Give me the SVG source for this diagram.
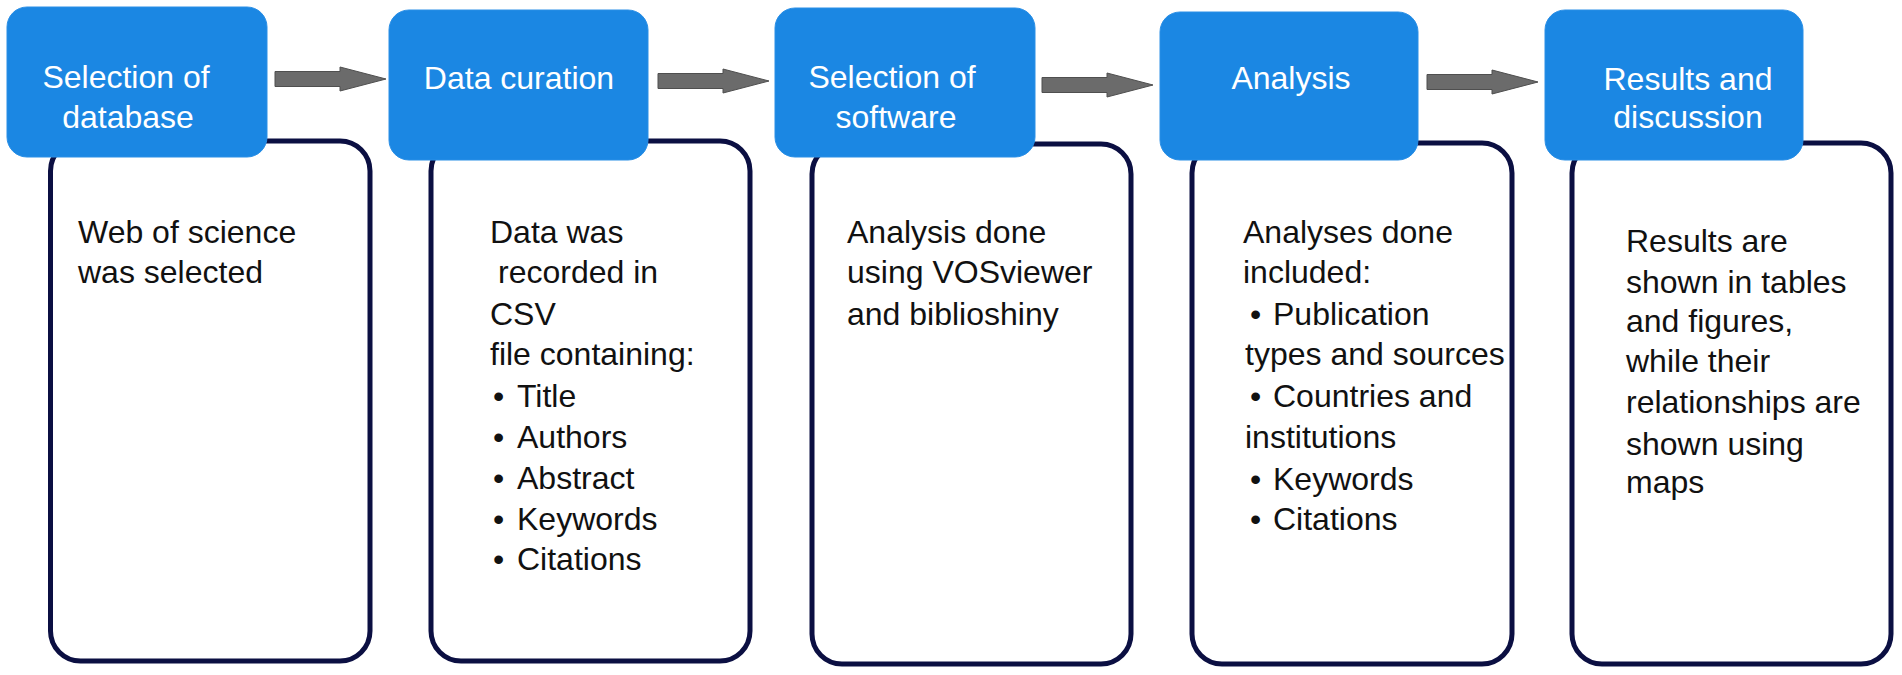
<svg xmlns="http://www.w3.org/2000/svg" width="1902" height="675" viewBox="0 0 1902 675">
<defs>
<style>
.card{fill:#ffffff;stroke:#0b0f42;stroke-width:5}
.head{fill:#1b87e3;stroke:#2a8fe6;stroke-width:1}
.ht{font-family:"Liberation Sans",Arial,sans-serif;font-size:32px;fill:#ffffff;text-anchor:middle}
.bt{font-family:"Liberation Sans",Arial,sans-serif;font-size:32px;fill:#111111}
.arr{fill:#6b6b6b;stroke:#4f4f4f;stroke-width:1}
</style>
<path id="arrow" d="M0,-7.5 H65 V-12 L111,0 L65,12 V7.5 H0 Z"/>
</defs>
<rect width="1902" height="675" fill="#ffffff"/>

<g id="connectors">
<use href="#arrow" class="arr" transform="translate(275,79)"/>
<use href="#arrow" class="arr" transform="translate(658,81)"/>
<use href="#arrow" class="arr" transform="translate(1042,85)"/>
<use href="#arrow" class="arr" transform="translate(1427,82)"/>
</g>

<g id="node1">
<rect class="card" x="50.5" y="141" width="319.5" height="520" rx="30"/>
<rect class="head" x="7" y="7" width="260" height="150" rx="20"/>
<text class="ht" x="126" y="88">Selection of</text>
<text class="ht" x="128" y="128">database</text>
<text class="bt" x="78" y="243">Web of science</text>
<text class="bt" x="78" y="283">was selected</text>
</g>

<g id="node2">
<rect class="card" x="431" y="141" width="319" height="520" rx="30"/>
<rect class="head" x="389" y="10" width="259" height="150" rx="20"/>
<text class="ht" x="519" y="89">Data curation</text>
<text class="bt" x="490" y="243">Data was</text>
<text class="bt" x="498" y="283">recorded in</text>
<text class="bt" x="490" y="325">CSV</text>
<text class="bt" x="490" y="365">file containing:</text>
<text class="bt" x="493" y="407">•</text><text class="bt" x="517" y="407">Title</text>
<text class="bt" x="493" y="448">•</text><text class="bt" x="517" y="448">Authors</text>
<text class="bt" x="493" y="489">•</text><text class="bt" x="517" y="489">Abstract</text>
<text class="bt" x="493" y="530">•</text><text class="bt" x="517" y="530">Keywords</text>
<text class="bt" x="493" y="570">•</text><text class="bt" x="517" y="570">Citations</text>
</g>

<g id="node3">
<rect class="card" x="812" y="144" width="319" height="520" rx="30"/>
<rect class="head" x="775" y="8" width="260" height="149" rx="20"/>
<text class="ht" x="892" y="88">Selection of</text>
<text class="ht" x="896" y="128">software</text>
<text class="bt" x="847" y="243">Analysis done</text>
<text class="bt" x="847" y="283">using VOSviewer</text>
<text class="bt" x="847" y="325">and biblioshiny</text>
</g>

<g id="node4">
<rect class="card" x="1192" y="143" width="320" height="521" rx="30"/>
<rect class="head" x="1160" y="12" width="258" height="148" rx="20"/>
<text class="ht" x="1291" y="89">Analysis</text>
<text class="bt" x="1243" y="243">Analyses done</text>
<text class="bt" x="1243" y="283">included:</text>
<text class="bt" x="1250" y="325">•</text><text class="bt" x="1273" y="325">Publication</text>
<text class="bt" x="1245" y="365">types and sources</text>
<text class="bt" x="1250" y="407">•</text><text class="bt" x="1273" y="407">Countries and</text>
<text class="bt" x="1245" y="448">institutions</text>
<text class="bt" x="1250" y="490">•</text><text class="bt" x="1273" y="490">Keywords</text>
<text class="bt" x="1250" y="530">•</text><text class="bt" x="1273" y="530">Citations</text>
</g>

<g id="node5">
<rect class="card" x="1572" y="143" width="319" height="521" rx="30"/>
<rect class="head" x="1545" y="10" width="258" height="150" rx="20"/>
<text class="ht" x="1688" y="90">Results and</text>
<text class="ht" x="1688" y="128">discussion</text>
<text class="bt" x="1626" y="252">Results are</text>
<text class="bt" x="1626" y="293">shown in tables</text>
<text class="bt" x="1626" y="332">and figures,</text>
<text class="bt" x="1626" y="372">while their</text>
<text class="bt" x="1626" y="413">relationships are</text>
<text class="bt" x="1626" y="455">shown using</text>
<text class="bt" x="1626" y="493">maps</text>
</g>
</svg>
